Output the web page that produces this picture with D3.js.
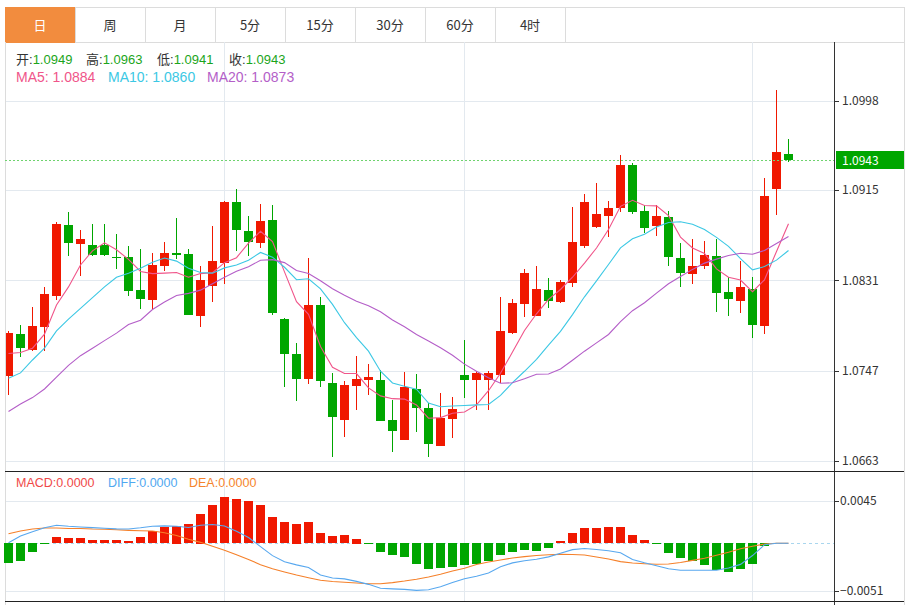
<!DOCTYPE html>
<html><head><meta charset="utf-8">
<script src="https://cdn.jsdelivr.net/npm/d3@7"></script>
<style>
body{margin:0;background:#fff;}
svg{display:block;font-family:"Microsoft YaHei","Noto Sans CJK SC","Liberation Sans",sans-serif;}
.lat{font-family:"Liberation Sans","Noto Sans CJK SC",sans-serif;}
</style>
</head><body>
<svg id="c" width="911" height="605"></svg>
<script>
// ---------- data ----------
const tabs = ["日","周","月","5分","15分","30分","60分","4时"];
const opens  = [1.0742,1.0781,1.0766,1.0788,1.0817,1.0883,1.0865,1.0864,1.0864,1.0853,
                1.0853,1.0822,1.0813,1.0844,1.0857,1.0856,1.0798,1.0826,1.0847,1.0904,
                1.0877,1.0866,1.0887,1.0795,1.0763,1.0739,1.0808,1.0736,1.0701,1.0733,
                1.0738,1.0738,1.0701,1.0683,1.0730,1.0712,1.0677,1.0702,1.0743,1.0738,
                1.0738,1.0743,1.0782,1.0809,1.0798,1.0822,1.0811,1.0829,1.0863,1.0881,
                1.0891,1.0898,1.0938,1.0896,1.0882,1.0890,1.0852,1.0837,1.0844,1.0854,
                1.0820,1.0812,1.0823,1.0789,1.0916,1.0949];
const highs  = [1.0784,1.0790,1.0806,1.0825,1.0885,1.0895,1.0878,1.0884,1.0884,1.0874,
                1.0863,1.0860,1.0857,1.0867,1.0889,1.0860,1.0844,1.0882,1.0905,1.0916,
                1.0891,1.0902,1.0901,1.0796,1.0773,1.0852,1.0816,1.0745,1.0737,1.0761,
                1.0753,1.0748,1.0720,1.0746,1.0744,1.0717,1.0726,1.0723,1.0776,1.0747,
                1.0747,1.0816,1.0814,1.0842,1.0844,1.0833,1.0831,1.0899,1.0911,1.0922,
                1.0905,1.0948,1.0940,1.0901,1.0901,1.0896,1.0866,1.0870,1.0868,1.0870,
                1.0834,1.0849,1.0834,1.0926,1.1008,1.0963];
const lows   = [1.0724,1.0760,1.0765,1.0765,1.0813,1.0854,1.0835,1.0854,1.0854,1.0842,
                1.0817,1.0804,1.0804,1.0840,1.0851,1.0799,1.0788,1.0811,1.0828,1.0858,
                1.0854,1.0861,1.0799,1.0732,1.0719,1.0735,1.0732,1.0667,1.0685,1.0710,
                1.0724,1.0700,1.0671,1.0683,1.0690,1.0667,1.0677,1.0684,1.0722,1.0710,
                1.0710,1.0736,1.0781,1.0797,1.0798,1.0805,1.0810,1.0825,1.0861,1.0880,
                1.0871,1.0895,1.0893,1.0875,1.0872,1.0844,1.0825,1.0828,1.0842,1.0802,
                1.0798,1.0801,1.0777,1.0781,1.0892,1.0941];
const closes = [1.0782,1.0768,1.0789,1.0818,1.0884,1.0866,1.0870,1.0855,1.0855,1.0852,
                1.0821,1.0814,1.0845,1.0857,1.0855,1.0799,1.0831,1.0849,1.0904,1.0878,
                1.0867,1.0886,1.0801,1.0763,1.0739,1.0808,1.0737,1.0704,1.0734,1.0739,
                1.0741,1.0700,1.0691,1.0732,1.0712,1.0679,1.0703,1.0711,1.0738,1.0745,
                1.0745,1.0784,1.0810,1.0838,1.0823,1.0812,1.0830,1.0867,1.0904,1.0893,
                1.0898,1.0938,1.0895,1.0880,1.0891,1.0853,1.0838,1.0844,1.0855,1.0819,
                1.0814,1.0825,1.0790,1.0910,1.0951,1.0943];
// moving-average values before enough visible closes exist
const ma5Lead  = [1.0763,1.0764,1.0768,1.0781];
const ma10Lead = [1.0740,1.0745,1.0757,1.0768,1.0784,1.0795,1.0805,1.0815,1.0825];
const ma20Lead = [1.0709,1.0716,1.0722,1.0730,1.0741,1.0752,1.0761,1.0768,1.0775,1.0782,
                  1.0790,1.0794,1.0804,1.0811,1.0817,1.0819,1.0822,1.0828,1.0834];
const maLast = [1.0884, 1.0860, 1.0873];
const priceTicks = [1.0663, 1.0747, 1.0831, 1.0915, 1.0998];
const macdTicks = [-0.0051, 0.0045];
const monthStarts = [18, 38, 62];
const macdHist = [-0.00208,-0.00187,-0.00101,-0.00012,0.00066,0.00052,0.00052,0.00037,0.00037,0.00031,
                  0.00020,0.00063,0.00130,0.00169,0.00187,0.00201,0.00315,0.00407,0.00493,0.00468,
                  0.00450,0.00407,0.00276,0.00223,0.00208,0.00226,0.00109,0.00073,0.00084,0.00048,
                  -0.00012,-0.00097,-0.00129,-0.00144,-0.00222,-0.00279,-0.00265,-0.00257,-0.00233,-0.00222,
                  -0.00197,-0.00133,-0.00094,-0.00073,-0.00080,-0.00048,0.00020,0.00105,0.00162,0.00162,
                  0.00173,0.00173,0.00087,0.00034,-0.00012,-0.00108,-0.00158,-0.00197,-0.00233,-0.00293,
                  -0.00304,-0.00272,-0.00219,-0.00030,0,0];
const diffVals = [0.00004,0.00077,0.00123,0.00165,0.00192,0.00180,0.00173,0.00166,0.00160,0.00153,
                  0.00151,0.00164,0.00180,0.00185,0.00180,0.00167,0.00191,0.00200,0.00184,0.00127,
                  0.00061,-0.00037,-0.00133,-0.00199,-0.00231,-0.00259,-0.00339,-0.00371,-0.00381,-0.00407,
                  -0.00439,-0.00481,-0.00487,-0.00493,-0.00503,-0.00496,-0.00464,-0.00419,-0.00380,-0.00352,
                  -0.00317,-0.00252,-0.00210,-0.00188,-0.00171,-0.00146,-0.00107,-0.00069,-0.00056,-0.00068,
                  -0.00081,-0.00101,-0.00174,-0.00209,-0.00240,-0.00273,-0.00289,-0.00289,-0.00289,-0.00289,
                  -0.00264,-0.00226,-0.00132,-0.00016,0,0];
const deaVals  = [0.00101,0.00130,0.00151,0.00162,0.00162,0.00157,0.00157,0.00151,0.00148,0.00143,
                  0.00137,0.00133,0.00130,0.00112,0.00082,0.00041,0.00009,-0.00033,-0.00076,-0.00123,
                  -0.00174,-0.00229,-0.00272,-0.00307,-0.00339,-0.00368,-0.00396,-0.00409,-0.00416,-0.00425,
                  -0.00432,-0.00432,-0.00421,-0.00404,-0.00384,-0.00361,-0.00332,-0.00297,-0.00267,-0.00227,
                  -0.00201,-0.00179,-0.00158,-0.00143,-0.00131,-0.00124,-0.00119,-0.00120,-0.00126,-0.00147,
                  -0.00169,-0.00197,-0.00211,-0.00219,-0.00225,-0.00222,-0.00206,-0.00183,-0.00161,-0.00128,
                  -0.00096,-0.00059,-0.00032,-0.00009,0,0];

// ---------- layout ----------
const L = 5, PR = 834, AR = 904;
const MT = 42, MB = 471, DB = 601;
const RED = "#f01800", GREEN = "#00a600", GRID = "#e3e9ef";
const svg = d3.select("#c");
const n = closes.length;

const x = d3.scaleBand().domain(d3.range(n)).range([2, 794]).paddingInner(0.25).paddingOuter(0.125);
const cx = i => Math.round(x(i) + x.bandwidth() / 2);
const bw = Math.round(x.bandwidth());
const y = d3.scaleLinear().domain([priceTicks[0], priceTicks[priceTicks.length - 1]]).range([461, 101]);
const ym = d3.scaleLinear().domain(macdTicks).range([591, 501]);

// ---------- tabs ----------
const tabW = 70;
svg.append("rect").attr("x", L + 0.5).attr("y", 7.5).attr("width", AR - L).attr("height", 35)
  .attr("fill", "#fff").attr("stroke", "#dcdcdc");
const tg = svg.append("g").selectAll("g").data(tabs).join("g");
tg.append("rect").attr("x", (d, i) => L + 0.5 + i * tabW).attr("y", 7.5).attr("width", tabW).attr("height", 35)
  .attr("fill", (d, i) => i === 0 ? "#f28c3e" : "#fff").attr("stroke", (d, i) => i === 0 ? "#f28c3e" : "#dcdcdc");
tg.append("text").attr("x", (d, i) => L + i * tabW + tabW / 2).attr("y", 25).attr("dy", "0.35em")
  .attr("text-anchor", "middle").attr("font-size", 13)
  .attr("fill", (d, i) => i === 0 ? "#fff" : "#333").text(d => d);

// ---------- frame & grids ----------
const frame = svg.append("g");
frame.selectAll("line.hg").data(priceTicks).join("line")
  .attr("x1", L).attr("x2", PR).attr("y1", d => Math.round(y(d)) + 0.5).attr("y2", d => Math.round(y(d)) + 0.5)
  .attr("stroke", GRID);
frame.selectAll("line.mg").data(macdTicks).join("line")
  .attr("x1", L).attr("x2", PR).attr("y1", d => Math.round(ym(d)) + 0.5).attr("y2", d => Math.round(ym(d)) + 0.5)
  .attr("stroke", GRID);
frame.selectAll("line.vg").data(monthStarts).join("line")
  .attr("x1", d => cx(d) + 0.5).attr("x2", d => cx(d) + 0.5).attr("y1", MT).attr("y2", DB)
  .attr("stroke", GRID);
frame.append("line").attr("x1", L + 0.5).attr("x2", L + 0.5).attr("y1", MT).attr("y2", 605).attr("stroke", "#dcdcdc");
frame.append("line").attr("x1", AR + 0.5).attr("x2", AR + 0.5).attr("y1", MT).attr("y2", 605).attr("stroke", "#dcdcdc");

// ---------- header texts ----------
const f4 = d3.format(".4f");
const last = n - 1;
const hdr = [["开:", opens[last], 16], ["高:", highs[last], 86], ["低:", lows[last], 157], ["收:", closes[last], 229]];
const hg = svg.append("g").attr("class", "lat").attr("font-size", 13);
hdr.forEach(h => {
  const t = hg.append("text").attr("x", h[2]).attr("y", 64);
  t.append("tspan").attr("fill", "#333").text(h[0]);
  t.append("tspan").attr("fill", "#1ba51b").text(f4(h[1]));
});
const maCols = ["#f0558a", "#3cc8e4", "#b45ec8"];
const maNames = ["MA5: ", "MA10: ", "MA20: "];
const maX = [16, 108, 207];
svg.append("g").attr("class", "lat").selectAll("text").data(maLast).join("text")
  .attr("x", (d, i) => maX[i]).attr("y", 82).attr("font-size", 14)
  .attr("fill", (d, i) => maCols[i]).text((d, i) => maNames[i] + f4(d));

// ---------- candles ----------
svg.append("clipPath").attr("id", "mc").append("rect")
  .attr("x", L + 1).attr("y", MT + 1).attr("width", PR - L - 1).attr("height", MB - MT - 1);
const cg = svg.append("g").attr("clip-path", "url(#mc)");
const cand = cg.selectAll("g").data(d3.range(n)).join("g");
const col = i => closes[i] >= opens[i] ? RED : GREEN;
cand.append("line")
  .attr("x1", i => cx(i) + 0.5).attr("x2", i => cx(i) + 0.5)
  .attr("y1", i => Math.round(y(highs[i]))).attr("y2", i => Math.round(y(lows[i])))
  .attr("stroke", col);
cand.append("rect")
  .attr("x", i => cx(i) - (bw - 1) / 2)
  .attr("width", bw)
  .attr("y", i => Math.round(y(Math.max(opens[i], closes[i]))))
  .attr("height", i => Math.max(1, Math.round(y(Math.min(opens[i], closes[i]))) - Math.round(y(Math.max(opens[i], closes[i])))))
  .attr("fill", col).attr("shape-rendering", "crispEdges");

// ---------- moving averages ----------
function movingAvg(period, lead) {
  return closes.map((c, i) => i < period - 1 ? lead[i] : d3.mean(closes.slice(i - period + 1, i + 1)));
}
const mas = [movingAvg(5, ma5Lead), movingAvg(10, ma10Lead), movingAvg(20, ma20Lead)];
const lineP = d3.line().x((d, i) => cx(i) + 0.5).y(d => y(d));
cg.selectAll("path.ma").data(mas).join("path")
  .attr("d", d => lineP(d)).attr("fill", "none").attr("stroke", (d, i) => maCols[i]).attr("stroke-width", 1.1);

// ---------- last price ----------
const lp = closes[last];
const lpy = Math.round(y(lp)) + 0.5;
svg.append("line").attr("x1", L).attr("x2", PR).attr("y1", lpy).attr("y2", lpy)
  .attr("stroke", "#6fd36f").attr("stroke-dasharray", "2,2");

// ---------- price axis ----------
const axisG = svg.append("g");
axisG.append("line").attr("x1", PR + 0.5).attr("x2", PR + 0.5).attr("y1", MT).attr("y2", 605).attr("stroke", "#333");
axisG.selectAll("line.t").data(priceTicks).join("line")
  .attr("x1", PR).attr("x2", PR + 5).attr("y1", d => Math.round(y(d)) + 0.5).attr("y2", d => Math.round(y(d)) + 0.5)
  .attr("stroke", "#333");
axisG.selectAll("text.t").data(priceTicks).join("text")
  .attr("x", PR + 8).attr("y", d => y(d)).attr("dy", "0.35em").attr("font-size", 12).attr("fill", "#333")
  .text(d => f4(d));
svg.append("rect").attr("x", PR + 2).attr("y", lpy - 9.5).attr("width", AR - PR - 2).attr("height", 18).attr("fill", "#00a600");
svg.append("text").attr("x", PR + 8).attr("y", lpy).attr("dy", "0.35em").attr("font-size", 12).attr("fill", "#fff").text(f4(lp));

// ---------- separators ----------
svg.append("line").attr("x1", L).attr("x2", AR).attr("y1", MB + 0.5).attr("y2", MB + 0.5).attr("stroke", "#222");
svg.append("line").attr("x1", L).attr("x2", AR).attr("y1", DB + 0.5).attr("y2", DB + 0.5).attr("stroke", "#222");

// ---------- MACD ----------
const zy = ym(0);
svg.append("line").attr("x1", L).attr("x2", PR).attr("y1", Math.round(zy) + 0.5).attr("y2", Math.round(zy) + 0.5)
  .attr("stroke", "#a9d6ee").attr("stroke-dasharray", "3,3");
const mg = svg.append("g");
mg.selectAll("rect").data(macdHist).join("rect")
  .attr("x", (d, i) => cx(i) - (bw - 1) / 2).attr("width", bw)
  .attr("y", d => Math.round(Math.min(ym(d), zy)))
  .attr("height", d => Math.max(d === 0 ? 0 : 1, Math.round(Math.abs(ym(d) - zy))))
  .attr("fill", d => d >= 0 ? RED : GREEN).attr("shape-rendering", "crispEdges");
const lineM = d3.line().x((d, i) => cx(i) + 0.5).y(d => ym(d));
mg.append("path").attr("d", lineM(deaVals)).attr("fill", "none").attr("stroke", "#f5802a").attr("stroke-width", 1.1);
mg.append("path").attr("d", lineM(diffVals)).attr("fill", "none").attr("stroke", "#58a8ef").attr("stroke-width", 1.1);

axisG.selectAll("line.mt").data(macdTicks).join("line")
  .attr("x1", PR).attr("x2", PR + 5).attr("y1", d => Math.round(ym(d)) + 0.5).attr("y2", d => Math.round(ym(d)) + 0.5)
  .attr("stroke", "#333");
axisG.selectAll("text.mt").data(macdTicks).join("text")
  .attr("x", PR + 6).attr("y", d => ym(d)).attr("dy", "0.35em").attr("font-size", 12).attr("fill", "#333")
  .text(d => f4(d));

const macdLbl = [["MACD:", macdHist[last], 16, "#f04848"], ["DIFF:", diffVals[last], 108, "#4fa8f0"], ["DEA:", deaVals[last], 189, "#f5842c"]];
svg.append("g").attr("class", "lat").selectAll("text").data(macdLbl).join("text")
  .attr("x", d => d[2]).attr("y", 486.5).attr("font-size", 12.5).attr("fill", d => d[3])
  .text(d => d[0] + f4(d[1]));
</script>
</body></html>
